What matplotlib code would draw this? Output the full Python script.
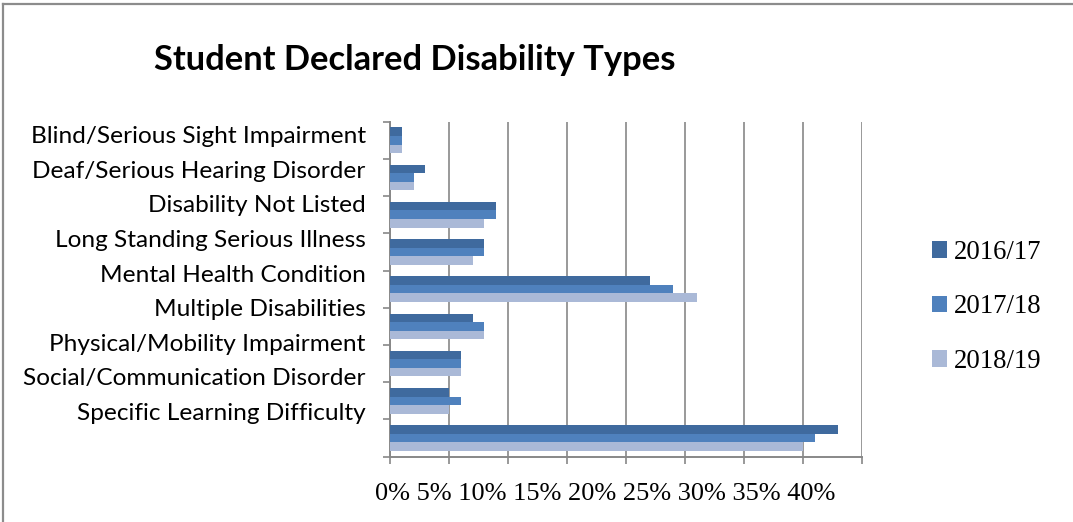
import numpy as np
import matplotlib.pyplot as plt
from matplotlib.lines import Line2D

# Disability categories and percentage of students per academic year
categories = [
    'Blind/Serious Sight Impairment',
    'Deaf/Serious Hearing Disorder',
    'Disability Not Listed',
    'Long Standing Serious Illness',
    'Mental Health Condition',
    'Multiple Disabilities',
    'Physical/Mobility Impairment',
    'Social/Communication Disorder',
    'Specific Learning Difficulty',
]
years = ['2016/17', '2017/18', '2018/19']
pct_1617 = [1, 3, 9, 8, 22, 7, 6, 5, 38]
pct_1718 = [1, 2, 9, 8, 24, 8, 6, 6, 36]
pct_1819 = [1, 2, 8, 7, 26, 8, 6, 5, 35]
x_ticks = [0, 5, 10, 15, 20, 25, 30, 35, 40]

colors = ['#3F6A9E', '#4F81BD', '#AAB9D7']
grid_col = '#888888'

W, H = 1073, 522
fig = plt.figure(figsize=(W / 100, H / 100), dpi=100)
ax = fig.add_axes([390 / W, 1 - 456.7 / H, (862 - 390) / W, (456.7 - 121.7) / H])

y = np.arange(len(categories))
bar_h = 0.23
for i, (vals, lab) in enumerate(zip([pct_1617, pct_1718, pct_1819], years)):
    ax.barh(y + (i - 1) * bar_h, vals, height=bar_h, color=colors[i],
            label=lab, zorder=3)

ax.set_xlim(0, 40)
ax.set_ylim(len(categories) - 0.5, -0.5)

# vertical gridlines
ax.set_xticks(x_ticks)
ax.xaxis.grid(True, color=grid_col, linewidth=1.2, zorder=0)
ax.tick_params(axis='x', direction='out', length=5, width=1.2, color=grid_col,
               labelbottom=False)
ax.set_yticks(np.arange(len(categories) + 1) - 0.5)
ax.tick_params(axis='y', direction='out', length=5, width=1.2, color=grid_col,
               labelleft=False)
for s in ['top', 'right']:
    ax.spines[s].set_visible(False)
for s in ['left', 'bottom']:
    ax.spines[s].set_color(grid_col)
    ax.spines[s].set_linewidth(1.4)

# category labels down the left side
for i, name in enumerate(categories):
    fig.text(365.7 / W, 1 - (143.3 + i * 34.6) / H, name, ha='right',
             va='baseline', fontsize=17.6, family='Lato')

# percentage scale under the axis
scale_text = ' '.join(f'{t}%' for t in x_ticks)
fig.text(604.7 / W, 1 - 500 / H, scale_text, ha='center', va='baseline',
         fontsize=19, family='Liberation Serif')

fig.text(415 / W, 1 - 70 / H, 'Student Declared Disability Types', ha='center',
         va='baseline', fontsize=24.8, fontweight='bold', family='Lato')

ax.legend(loc='upper left', bbox_to_anchor=(932 / W, 1 - 240 / H),
          bbox_transform=fig.transFigure, frameon=False, borderpad=0,
          borderaxespad=0, handlelength=0.57, handleheight=0.57,
          handletextpad=0.25, labelspacing=1.1,
          prop={'family': 'Liberation Serif', 'size': 19.3})

# outer frame (top and left edges)
fig.add_artist(Line2D([2.5 / W, 1], [1 - 4 / H, 1 - 4 / H], color='#8C8C8C',
                      linewidth=1.6, transform=fig.transFigure))
fig.add_artist(Line2D([2.5 / W, 2.5 / W], [0, 1 - 4 / H], color='#8C8C8C',
                      linewidth=1.6, transform=fig.transFigure))

fig.savefig('out.png', dpi=100)
